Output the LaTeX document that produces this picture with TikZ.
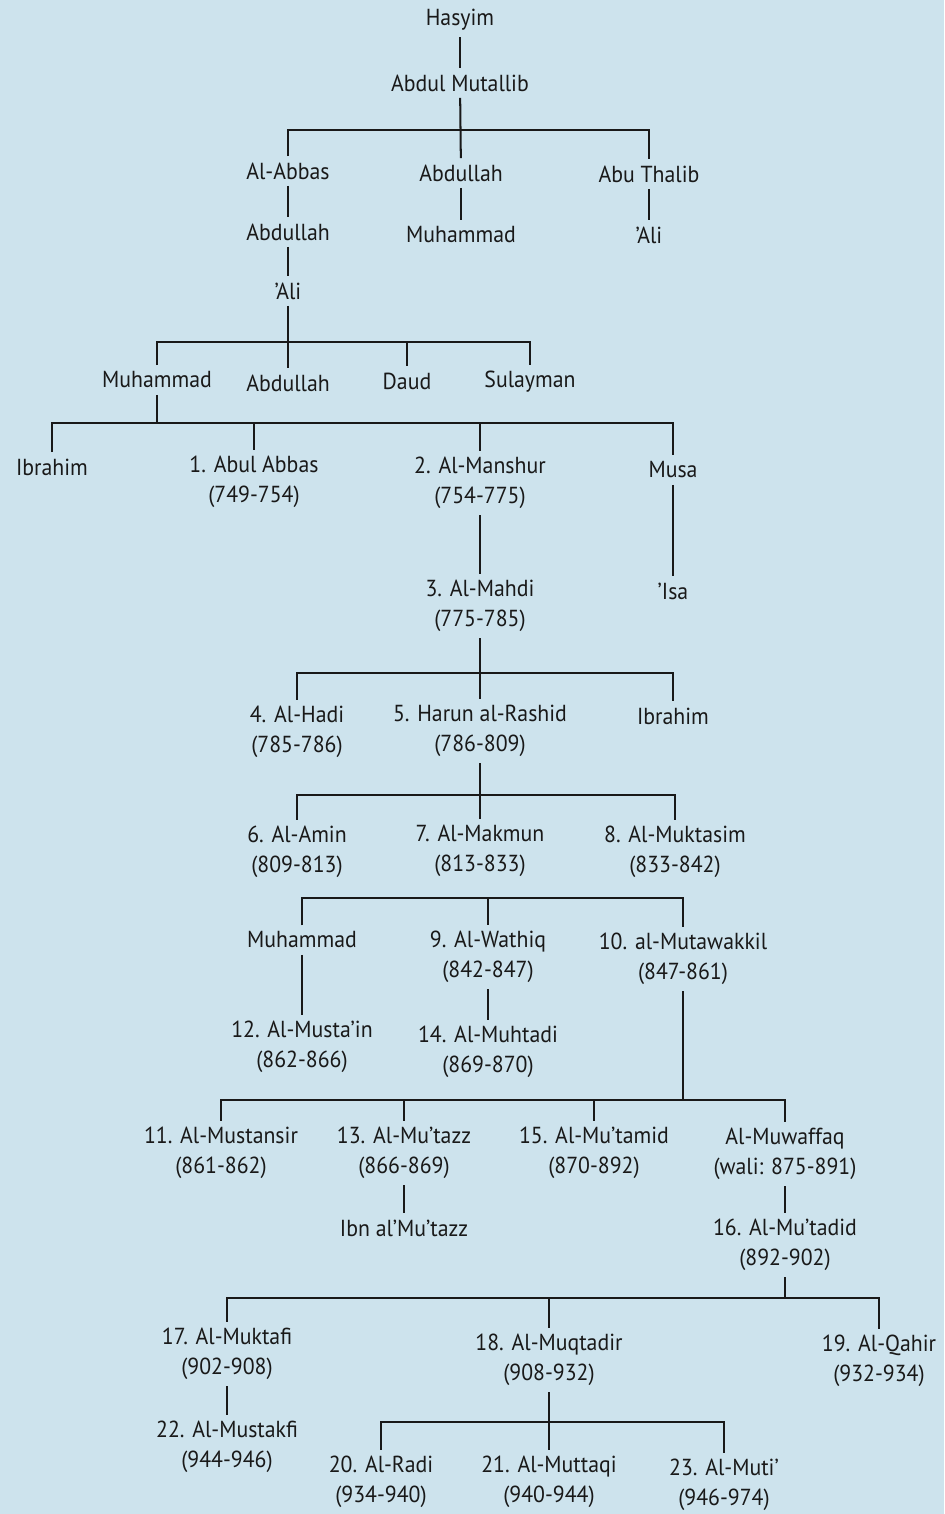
\documentclass[tikz,border=0pt]{standalone}
\usepackage{fontspec}
\setmainfont{PT Sans}[FakeStretch=0.94]
\definecolor{paper}{RGB}{205,227,237}
\definecolor{ink}{RGB}{25,25,25}

\begin{document}
\begin{tikzpicture}[x=0.02cm, y=-0.02cm,
        every node/.style={font=\fontsize{13.2}{17}\selectfont, text=ink, align=center, inner sep=3.5pt},
        tie/.style={draw=ink, line width=1.15pt}]
    \fill[paper] (0,0) rectangle (944,1514);
    \useasboundingbox (0,0) rectangle (944,1514);

    % heights of the sibling bars
    \coordinate (b1) at (0,130);
    \coordinate (b2) at (0,342);
    \coordinate (b3) at (0,423);
    \coordinate (b4) at (0,673);
    \coordinate (b5) at (0,795);
    \coordinate (b6) at (0,898);
    \coordinate (b7) at (0,1100);
    \coordinate (b8) at (0,1298);
    \coordinate (b9) at (0,1422);

    \node (hasyim) at (460,20) {Hasyim};
    \node (mutallib) at (460,83) {Abdul Mutallib};
    \node (abbas) at (288,171) {Al-Abbas};
    \node (abdullahb) at (461,173) {Abdullah};
    \node (thalib) at (649,174) {Abu Thalib};
    \node (abdullahc) at (288,232) {Abdullah};
    \node (muhammadn) at (461,235) {Muhammad};
    \node (alit) at (649,235) {'Ali};
    \node (alib) at (288,291) {'Ali};
    \node (muhammadb) at (157,380) {Muhammad};
    \node (abdullahd) at (288,383) {Abdullah};
    \node (daud) at (407,381) {Daud};
    \node (sulayman) at (530,382) {Sulayman};
    \node (ibrahima) at (52,467) {Ibrahim};
    \node (abulabbas) at (254,482) {1. Abul Abbas\\(749-754)};
    \node (manshur) at (480,483) {2. Al-Manshur\\(754-775)};
    \node (musa) at (673,470) {Musa};
    \node (mahdi) at (480,606) {3. Al-Mahdi\\(775-785)};
    \node (isa) at (673,591) {'Isa};
    \node (hadi) at (297,732) {4. Al-Hadi\\(785-786)};
    \node (harun) at (480,731) {5. Harun al-Rashid\\(786-809)};
    \node (ibrahimb) at (673,716) {Ibrahim};
    \node (amin) at (297,852) {6. Al-Amin\\(809-813)};
    \node (makmun) at (480,851) {7. Al-Makmun\\(813-833)};
    \node (muktasim) at (675,852) {8. Al-Muktasim\\(833-842)};
    \node (muhammadc) at (302,940) {Muhammad};
    \node (wathiq) at (488,957) {9. Al-Wathiq\\(842-847)};
    \node (mutawakkil) at (683,959) {10. al-Mutawakkil\\(847-861)};
    \node (mustain) at (302,1047) {12. Al-Musta'in\\(862-866)};
    \node (muhtadi) at (488,1052) {14. Al-Muhtadi\\(869-870)};
    \node (mustansir) at (221,1153) {11. Al-Mustansir\\(861-862)};
    \node (mutazz) at (404,1153) {13. Al-Mu'tazz\\(866-869)};
    \node (mutamid) at (594,1153) {15. Al-Mu'tamid\\(870-892)};
    \node (muwaffaq) at (785,1154) {Al-Muwaffaq\\(wali: 875-891)};
    \node (ibnmutazz) at (404,1228) {Ibn al'Mu'tazz};
    \node (mutadid) at (785,1245) {16. Al-Mu'tadid\\(892-902)};
    \node (muktafi) at (227,1354) {17. Al-Muktafi\\(902-908)};
    \node (muqtadir) at (549,1360) {18. Al-Muqtadir\\(908-932)};
    \node (qahir) at (879,1361) {19. Al-Qahir\\(932-934)};
    \node (mustakfi) at (227,1447) {22. Al-Mustakfi\\(944-946)};
    \node (radi) at (381,1482) {20. Al-Radi\\(934-940)};
    \node (muttaqi) at (549,1482) {21. Al-Muttaqi\\(940-944)};
    \node (muti) at (724,1485) {23. Al-Muti'\\(946-974)};

    % Hasyim to 'Ali
    \draw[tie] (hasyim) -- (mutallib);
    \draw[tie] (mutallib) -- (abdullahb);
    \draw[tie] (abbas.north) -- (abbas |- b1) -- (thalib |- b1) -- (thalib.north);
    \draw[tie] (abbas) -- (abdullahc);
    \draw[tie] (abdullahb) -- (muhammadn);
    \draw[tie] (thalib) -- (alit);
    \draw[tie] (abdullahc) -- (alib);
    % sons of 'Ali
    \draw[tie] (alib) -- (abdullahd);
    \draw[tie] (muhammadb.north) -- (muhammadb |- b2) -- (sulayman |- b2) -- (sulayman.north);
    \draw[tie] (daud |- b2) -- (daud.north);
    % sons of Muhammad
    \draw[tie] (muhammadb) -- (muhammadb |- b3);
    \draw[tie] (ibrahima.north) -- (ibrahima |- b3) -- (musa |- b3) -- (musa.north);
    \draw[tie] (abulabbas |- b3) -- (abulabbas.north);
    \draw[tie] (manshur |- b3) -- (manshur.north);
    \draw[tie] (manshur) -- (mahdi);
    \draw[tie] (musa) -- (isa);
    % Al-Mahdi and Harun
    \draw[tie] (mahdi) -- (harun);
    \draw[tie] (hadi.north) -- (hadi |- b4) -- (ibrahimb |- b4) -- (ibrahimb.north);
    \draw[tie] (harun) -- (makmun);
    \draw[tie] (amin.north) -- (amin |- b5) -- (muktasim |- b5) -- (muktasim.north);
    \draw[tie] (muhammadc.north) -- (muhammadc |- b6) -- (mutawakkil |- b6) -- (mutawakkil.north);
    \draw[tie] (wathiq |- b6) -- (wathiq.north);
    \draw[tie] (muhammadc) -- (mustain);
    \draw[tie] (wathiq) -- (muhtadi);
    % sons of al-Mutawakkil
    \draw[tie] (mutawakkil) -- (mutawakkil |- b7);
    \draw[tie] (mustansir.north) -- (mustansir |- b7) -- (muwaffaq |- b7) -- (muwaffaq.north);
    \draw[tie] (mutazz |- b7) -- (mutazz.north);
    \draw[tie] (mutamid |- b7) -- (mutamid.north);
    \draw[tie] (mutazz) -- (ibnmutazz);
    \draw[tie] (muwaffaq) -- (mutadid);
    % sons of Al-Mu'tadid
    \draw[tie] (mutadid) -- (mutadid |- b8);
    \draw[tie] (muktafi.north) -- (muktafi |- b8) -- (qahir |- b8) -- (qahir.north);
    \draw[tie] (muqtadir |- b8) -- (muqtadir.north);
    \draw[tie] (muktafi) -- (mustakfi);
    \draw[tie] (muqtadir) -- (muttaqi);
    \draw[tie] (radi.north) -- (radi |- b9) -- (muti |- b9) -- (muti.north);
\end{tikzpicture}
\end{document}
